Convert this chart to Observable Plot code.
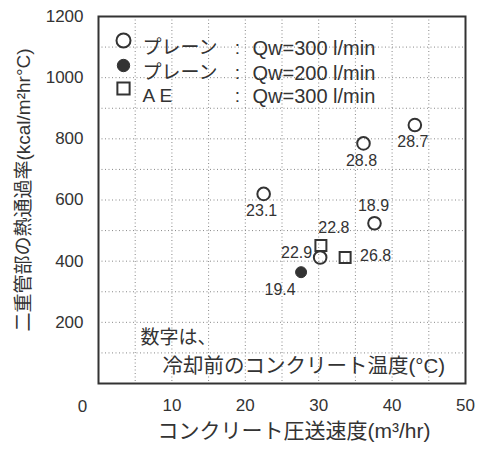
<!DOCTYPE html>
<html>
<head>
<meta charset="utf-8">
<script src="https://cdn.jsdelivr.net/npm/d3@7"></script>
<script src="https://cdn.jsdelivr.net/npm/@observablehq/plot@0.6"></script>
<style>
  html, body { margin: 0; padding: 0; background: #fff; }
</style>
</head>
<body>
<div id="chart"></div>
<script>
// Heat transfer rate of the double-pipe section vs. concrete pumping rate
const pumpRate = [43.1, 36.1, 22.5, 37.6, 30.2, 27.6, 30.3, 33.6];      // m3/hr
const heatRate = [845, 785, 620, 524, 412, 364, 451, 412];               // kcal/m2hr°C
const concreteTemp = ["28.7", "28.8", "23.1", "18.9", "22.9", "19.4", "22.8", "26.8"]; // °C before cooling
const series = ["plain300", "plain300", "plain300", "plain300", "plain300", "plain200", "ae300", "ae300"];
const labelSide = ["below", "below", "below", "above", "left", "below-left", "above-right", "right"];

// Legend entries
const legendKeys = ["plain300", "plain200", "ae300"];
const legendNames = ["プレーン", "プレーン", "A E"];
const legendFlows = ["Qw=300 l/min", "Qw=200 l/min", "Qw=300 l/min"];

// Axis ticks
const xTicks = [10, 20, 30, 40, 50];
const yTicks = [200, 400, 600, 800, 1000, 1200];
const xGrid = [5, 10, 15, 20, 25, 30, 35, 40, 45];
const yGrid = [100, 200, 300, 400, 500, 600, 700, 800, 900, 1000, 1100];

const ink = "#333";
const points = pumpRate.map((x, i) => ({
  x, y: heatRate[i], temp: concreteTemp[i], series: series[i], side: labelSide[i]
}));

const sideOffset = {
  "below":       {dx: -2, dy: 17, anchor: "middle"},
  "above":       {dx: -1, dy: -17, anchor: "middle"},
  "left":        {dx: -8, dy: -5, anchor: "end"},
  "right":       {dx: 15, dy: -2, anchor: "start"},
  "below-left":  {dx: -21, dy: 18, anchor: "middle"},
  "above-right": {dx: 13, dy: -18, anchor: "middle"}
};
const labelMarks = Object.entries(sideOffset).map(([side, o]) =>
  Plot.text(points.filter(d => d.side === side), {
    x: "x", y: "y", text: "temp", dx: o.dx, dy: o.dy, textAnchor: o.anchor,
    fontSize: 16, fill: ink
  })
);

const symbolStyle = {
  plain300: {symbol: "circle", r: 6.3, fill: "none", stroke: ink, strokeWidth: 2},
  plain200: {symbol: "circle", r: 5.5, fill: ink, stroke: ink, strokeWidth: 1},
  ae300:    {symbol: "square", r: 6.2, fill: "none", stroke: ink, strokeWidth: 2}
};
const dotMarks = legendKeys.map(k =>
  Plot.dot(points.filter(d => d.series === k), {x: "x", y: "y", ...symbolStyle[k]})
);

// Legend drawn inside the frame, top-left
const legendRowDy = [24, 49, 72];
const legendMarks = legendKeys.flatMap((k, i) => [
  Plot.dot([k], {frameAnchor: "top-left", dx: 25, dy: legendRowDy[i], ...symbolStyle[k],
    r: symbolStyle[k].r + 0.7}),
  Plot.text([legendNames[i]], {frameAnchor: "top-left", dx: 44, dy: legendRowDy[i],
    textAnchor: "start", fontSize: 19, fill: ink}),
  Plot.text([":"], {frameAnchor: "top-left", dx: 139, dy: legendRowDy[i],
    textAnchor: "middle", fontSize: 19, fill: ink}),
  Plot.text([legendFlows[i]], {frameAnchor: "top-left", dx: 154, dy: legendRowDy[i],
    textAnchor: "start", fontSize: 20, fill: ink})
]);

const chart = Plot.plot({
  width: 481,
  height: 450,
  marginLeft: 98,
  marginRight: 16,
  marginTop: 16,
  marginBottom: 67,
  style: {fontFamily: "'Liberation Sans', 'Noto Sans CJK JP', sans-serif", color: ink, background: "#fff"},
  x: {domain: [0, 50]},
  y: {domain: [0, 1200]},
  marks: [
    Plot.ruleX(xGrid, {stroke: "#888", strokeWidth: 1, strokeDasharray: "1,2.5"}),
    Plot.ruleY(yGrid, {stroke: "#888", strokeWidth: 1, strokeDasharray: "1,2.5"}),
    Plot.frame({stroke: ink, strokeWidth: 2}),
    Plot.axisX({ticks: xTicks, tickFormat: d3.format("d"), tickSize: 0, tickPadding: 15,
      fontSize: 17, label: null}),
    Plot.axisY({ticks: yTicks, tickFormat: d3.format("d"), tickSize: 0, tickPadding: 15,
      fontSize: 17, label: null}),
    Plot.text(["0"], {x: () => 0, y: () => 0, dx: -16, dy: 23, fontSize: 17, fill: ink}),
    Plot.text(["コンクリート圧送速度(m³/hr)"], {frameAnchor: "bottom", dx: 12, dy: 54,
      textAnchor: "middle", fontSize: 21, fill: ink}),
    Plot.text(["二重管部の熱通過率(kcal/m²hr°C)"], {frameAnchor: "left", dx: -75, dy: -10,
      textAnchor: "middle", rotate: -90, fontSize: 19, fill: ink}),
    Plot.text(["数字は、"], {frameAnchor: "bottom-left", dx: 42, dy: -40, textAnchor: "start",
      fontSize: 19, fill: ink}),
    Plot.text(["冷却前のコンクリート温度(°C)"], {frameAnchor: "bottom-left", dx: 64, dy: -11,
      textAnchor: "start", fontSize: 20.5, fill: ink}),
    ...legendMarks,
    ...dotMarks,
    ...labelMarks
  ]
});

document.getElementById("chart").append(chart);
</script>
</body>
</html>
